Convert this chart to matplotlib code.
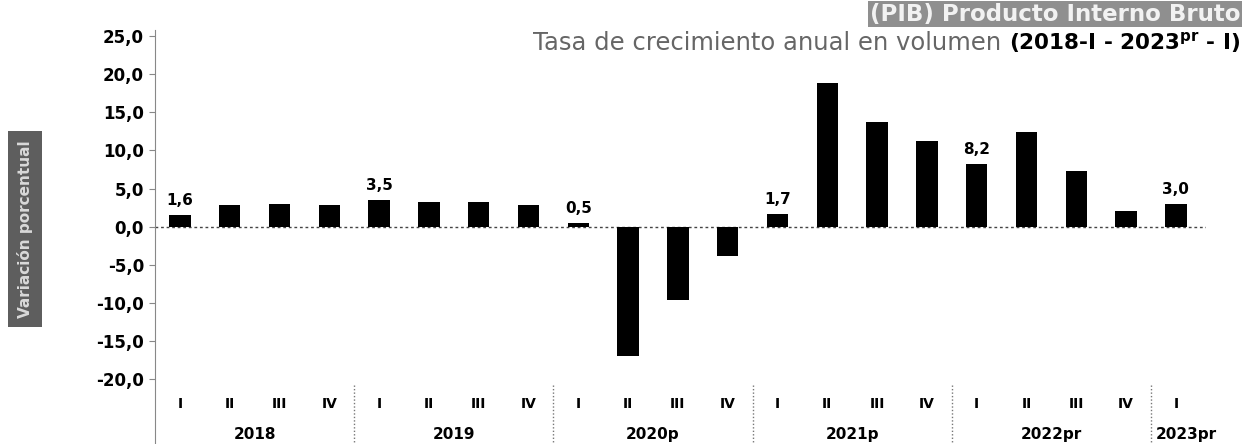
import matplotlib
matplotlib.use("Agg")
import matplotlib.pyplot as plt

# quarterly GDP growth, %
quarters = ["I", "II", "III", "IV"] * 5 + ["I"]
years = ["2018", "2019", "2020p", "2021p", "2022pr", "2023pr"]
values = [1.6, 2.8, 3.0, 2.9,
          3.5, 3.2, 3.2, 2.8,
          0.5, -17.0, -9.6, -3.9,
          1.7, 18.8, 13.7, 11.2,
          8.2, 12.4, 7.3, 2.1,
          3.0]
labelled = [0, 4, 8, 12, 16, 20]
yticks = [25, 20, 15, 10, 5, 0, -5, -10, -15, -20]

fig = plt.figure(figsize=(12.49, 4.44), dpi=100)
ax = fig.add_axes([155 / 1249, 0, 0.8413, 0.9324])

x = list(range(len(values)))
ax.bar(x, values, width=0.43, color="black", zorder=3)
ax.axhline(0, color="#444444", lw=1, ls=(0, (2, 2)), zorder=2)

# value labels on first quarters
for i in labelled:
    ax.annotate(f"{values[i]:.1f}".replace(".", ","), (i, values[i]),
                xytext=(0, 5), textcoords="offset points",
                ha="center", va="bottom", fontsize=11, fontweight="bold")

ax.set_xlim(-0.5, 20.6)
ax.set_ylim(-28.5, 25.8)
ax.set_yticks(yticks)
ax.set_yticklabels([f"{t:.1f}".replace(".", ",") for t in yticks],
                   fontsize=12, fontweight="bold")
ax.tick_params(axis="y", length=4, color="#888888", pad=4)
ax.set_xticks([])
for s in ["top", "right", "bottom"]:
    ax.spines[s].set_visible(False)
ax.spines["left"].set_color("#888888")
ax.spines["left"].set_linestyle((0, (1, 1)))

# category axis: quarters, years and separators
for i, q in enumerate(quarters):
    ax.text(i, -23.3, q, ha="center", va="center", fontsize=10, fontweight="bold")
start = 0
for k, yr in enumerate(years):
    n = 4 if k < 5 else 1
    ax.text(start + (n - 1) / 2 + (0.2 if n == 1 else 0), -27.2, yr,
            ha="center", va="center", fontsize=11, fontweight="bold")
    if k > 0:
        ax.plot([start - 0.5, start - 0.5], [-20.8, -28.5], color="#777777",
                lw=1, ls=(0, (1, 1.5)), clip_on=False)
    start += n

# titles
fig.text(1240 / 1249, 1 - 14 / 444, "(PIB) Producto Interno Bruto",
         ha="right", va="center", fontsize=16.5, fontweight="bold", color="#f2f2f2",
         bbox=dict(boxstyle="square,pad=0.08", facecolor="#8f8f8f", edgecolor="none"))
bold = fig.text(1240 / 1249, 1 - 43 / 444, r"(2018-I - 2023$^{\mathbf{pr}}$ - I)",
                ha="right", va="center", fontsize=15.5, fontweight="bold")
fig.canvas.draw()
bb = bold.get_window_extent()
fig.text((bb.x0 - 8) / 1249, 1 - 43 / 444, "Tasa de crecimiento anual en volumen",
         ha="right", va="center", fontsize=17.5, color="#666666")

fig.text(25 / 1249, 1 - 229 / 444, "Variación porcentual", rotation=90,
         ha="center", va="center", fontsize=11, fontweight="bold", color="#d9d9d9",
         bbox=dict(boxstyle="square,pad=0.6", facecolor="#5e5e5e", edgecolor="none"))

fig.savefig("out.png", dpi=100)
